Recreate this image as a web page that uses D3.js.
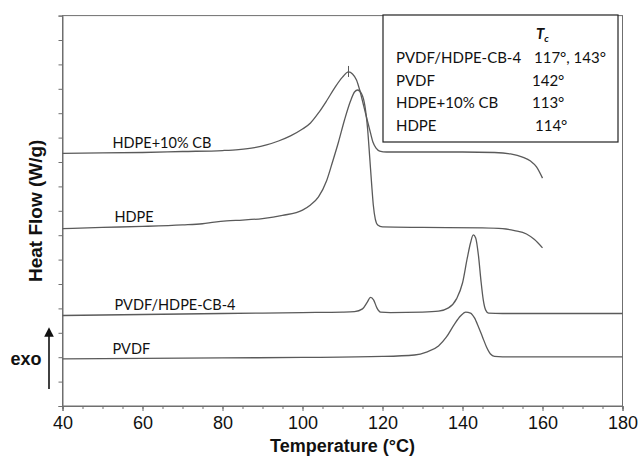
<!DOCTYPE html>
<html>
<head>
<meta charset="utf-8">
<script src="https://cdn.jsdelivr.net/npm/d3@7"></script>
<style>
  html, body { margin: 0; padding: 0; background: #fff; }
  svg { display: block; }
</style>
</head>
<body>
<svg id="chart" width="639" height="457"></svg>
<script>
// DSC cooling scans: temperature (°C) vs heat flow (arbitrary offset units, exo up)
const seriesNames = ["HDPE+10% CB", "HDPE", "PVDF/HDPE-CB-4", "PVDF"];

const tempHdpeCb = [40, 50, 60, 70, 80, 84, 88, 91, 94, 97, 100, 102, 104, 106, 108, 110, 111.5, 112.5, 113.5, 114.3, 115.3, 116.3, 117, 117.6, 118.4, 119.3, 121, 130, 140, 148, 152, 155, 157, 158.5, 160];
const flowHdpeCb = [10.35, 10.37, 10.39, 10.43, 10.47, 10.51, 10.59, 10.70, 10.86, 11.07, 11.35, 11.60, 12.01, 12.50, 13.03, 13.48, 13.69, 13.61, 13.36, 12.95, 12.30, 11.64, 11.19, 10.82, 10.57, 10.45, 10.41, 10.41, 10.41, 10.39, 10.33, 10.20, 10.04, 9.80, 9.34];

const tempHdpe = [40, 50, 60, 70, 75, 78, 81, 85, 90, 95, 100, 102, 104, 106, 107.5, 109, 110.5, 112, 113, 113.8, 114.8, 115.6, 116.3, 116.8, 117.3, 117.7, 118.2, 118.8, 120, 130, 145, 150, 153, 156, 158, 160];
const flowHdpe = [7.27, 7.32, 7.36, 7.42, 7.47, 7.54, 7.59, 7.62, 7.68, 7.81, 8.03, 8.24, 8.57, 9.22, 10.00, 10.82, 11.72, 12.50, 12.87, 12.95, 12.79, 12.30, 11.31, 10.20, 9.06, 8.24, 7.66, 7.42, 7.34, 7.32, 7.30, 7.27, 7.19, 7.05, 6.82, 6.48];

const tempBlend = [40, 60, 80, 100, 110, 113, 115, 116.2, 117, 117.8, 118.6, 119.5, 122, 130, 134, 136.5, 138.5, 140, 141.2, 142, 142.7, 143.3, 144, 144.6, 145.2, 145.8, 146.5, 150, 180];
const flowBlend = [3.71, 3.75, 3.79, 3.83, 3.85, 3.87, 3.98, 4.26, 4.45, 4.34, 4.02, 3.85, 3.83, 3.85, 3.89, 4.02, 4.39, 5.04, 6.07, 6.68, 7.01, 6.89, 6.15, 5.16, 4.34, 3.93, 3.81, 3.79, 3.79];

const tempPvdf = [40, 60, 80, 100, 120, 128, 131, 134, 136, 138, 139.5, 140.8, 142, 143, 144, 145, 146, 147, 148, 150, 180];
const flowPvdf = [1.93, 1.95, 1.97, 1.99, 2.03, 2.09, 2.21, 2.46, 2.83, 3.36, 3.69, 3.85, 3.81, 3.61, 3.24, 2.83, 2.42, 2.13, 2.03, 2.01, 2.01];

// label anchor temperatures for each curve name
const labelTemps = [52.5, 53, 53, 52.5];

// crystallization temperatures shown in the table
const tableHeader = "T";
const tableRows = ["PVDF/HDPE-CB-4", "PVDF", "HDPE+10% CB", "HDPE"];
const tableValues = ["117°, 143°", "142°", "113°", "114°"];

const xTickValues = [40, 60, 80, 100, 120, 140, 160, 180];
const peakMarkTemp = 111.5;
const peakMarkFlow = 13.69;

const svg = d3.select("#chart");
const plotL = 62.5, plotR = 622.5, plotT = 15.6, plotB = 406;

const x = d3.scaleLinear().domain([40, 180]).range([plotL, plotR]);
const y = d3.scaleLinear().domain([0, 16]).range([plotB, plotT]);

const axisColor = "#6f6f6f";
const lineColor = "#5a5a5a";

// frame
svg.append("rect")
  .attr("x", plotL).attr("y", plotT)
  .attr("width", plotR - plotL).attr("height", plotB - plotT)
  .attr("fill", "none").attr("stroke", axisColor).attr("stroke-width", 1);

// x axis: minor ticks every 5 °C, labels every 20 °C
const xMinor = d3.axisBottom(x).tickValues(d3.range(40, 181, 5)).tickSize(3).tickFormat("");
const gxm = svg.append("g").attr("transform", `translate(0,${plotB})`).call(xMinor);
const xMajor = d3.axisBottom(x).tickValues(xTickValues).tickSize(5).tickPadding(5).tickFormat(d3.format("d"));
const gx = svg.append("g").attr("transform", `translate(0,${plotB})`).call(xMajor);
[gxm, gx].forEach(g => {
  g.select(".domain").attr("stroke", axisColor);
  g.selectAll(".tick line").attr("stroke", axisColor);
});
gx.selectAll(".tick text")
  .attr("font-family", "'Liberation Sans', Arial, sans-serif")
  .attr("font-size", 18).attr("fill", "#111");

// y axis: unlabeled ticks
const yAx = d3.axisLeft(y).tickValues(d3.range(0, 17, 1)).tickSize(4).tickFormat("");
const gy = svg.append("g").attr("transform", `translate(${plotL},0)`).call(yAx);
gy.select(".domain").attr("stroke", axisColor);
gy.selectAll(".tick line").attr("stroke", axisColor);

// axis titles
svg.append("text")
  .attr("x", (plotL + plotR) / 2).attr("y", 452)
  .attr("text-anchor", "middle")
  .attr("font-family", "'Liberation Sans', Arial, sans-serif")
  .attr("font-weight", "bold").attr("font-size", 18).attr("fill", "#111")
  .text("Temperature (°C)");

svg.append("text")
  .attr("transform", `translate(42,${(plotT + plotB) / 2}) rotate(-90)`)
  .attr("text-anchor", "middle")
  .attr("font-family", "'Liberation Sans', Arial, sans-serif")
  .attr("font-weight", "bold").attr("font-size", 19).attr("fill", "#111")
  .text("Heat Flow (W/g)");

// exo arrow
svg.append("defs").append("marker")
  .attr("id", "arrowhead").attr("viewBox", "0 0 10 10")
  .attr("refX", 5).attr("refY", 5)
  .attr("markerWidth", 6).attr("markerHeight", 7)
  .attr("orient", "auto")
  .append("path").attr("d", "M0,0 L10,5 L0,10 z").attr("fill", "#111");
svg.append("line")
  .attr("x1", 49).attr("y1", 389).attr("x2", 49).attr("y2", 332)
  .attr("stroke", "#111").attr("stroke-width", 1.6)
  .attr("marker-end", "url(#arrowhead)");
svg.append("text")
  .attr("x", 26).attr("y", 365)
  .attr("text-anchor", "middle")
  .attr("font-family", "'Liberation Sans', Arial, sans-serif")
  .attr("font-weight", "bold").attr("font-size", 18).attr("fill", "#111")
  .text("exo");

// curves
const temps = [tempHdpeCb, tempHdpe, tempBlend, tempPvdf];
const flows = [flowHdpeCb, flowHdpe, flowBlend, flowPvdf];
const line = d3.line()
  .x(d => x(d[0])).y(d => y(d[1]))
  .curve(d3.curveMonotoneX);

temps.forEach((t, i) => {
  const pts = t.map((v, j) => [v, flows[i][j]]);
  svg.append("path")
    .datum(pts)
    .attr("d", line)
    .attr("fill", "none")
    .attr("stroke", lineColor)
    .attr("stroke-width", 1.3);
});

// peak mark on the HDPE+10% CB curve
svg.append("line")
  .attr("x1", x(peakMarkTemp)).attr("x2", x(peakMarkTemp))
  .attr("y1", y(peakMarkFlow) - 6).attr("y2", y(peakMarkFlow) + 5)
  .attr("stroke", lineColor).attr("stroke-width", 1);

// curve names, sitting just above each baseline
const labelFont = "Lato, 'Open Sans', sans-serif";
seriesNames.forEach((name, i) => {
  const t = temps[i], f = flows[i];
  const lt = labelTemps[i];
  const fv = d3.scaleLinear().domain(t).range(f)(lt);
  svg.append("text")
    .attr("x", x(lt)).attr("y", y(fv) - 5)
    .attr("font-family", labelFont).attr("font-size", 14.5).attr("fill", "#111")
    .text(name);
});

// Tc table
const box = { x0: 383, y0: 15, x1: 618, y1: 142 };
svg.append("rect")
  .attr("x", box.x0).attr("y", box.y0)
  .attr("width", box.x1 - box.x0).attr("height", box.y1 - box.y0)
  .attr("fill", "#fff").attr("stroke", "#222").attr("stroke-width", 1.2);

const hdr = svg.append("text")
  .attr("x", 536).attr("y", 39)
  .attr("font-family", labelFont).attr("font-size", 15)
  .attr("font-weight", "bold").attr("font-style", "italic").attr("fill", "#111");
hdr.append("tspan").text(tableHeader);
hdr.append("tspan").attr("font-size", 10).attr("dy", 3).text("c");

tableRows.forEach((r, i) => {
  const by = 63 + i * 22.7;
  svg.append("text")
    .attr("x", 396).attr("y", by)
    .attr("font-family", labelFont).attr("font-size", 15).attr("fill", "#111")
    .text(r);
  svg.append("text")
    .attr("x", [534, 532, 532, 535][i]).attr("y", by)
    .attr("font-family", labelFont).attr("font-size", 15).attr("fill", "#111")
    .text(tableValues[i]);
});
</script>
</body>
</html>
